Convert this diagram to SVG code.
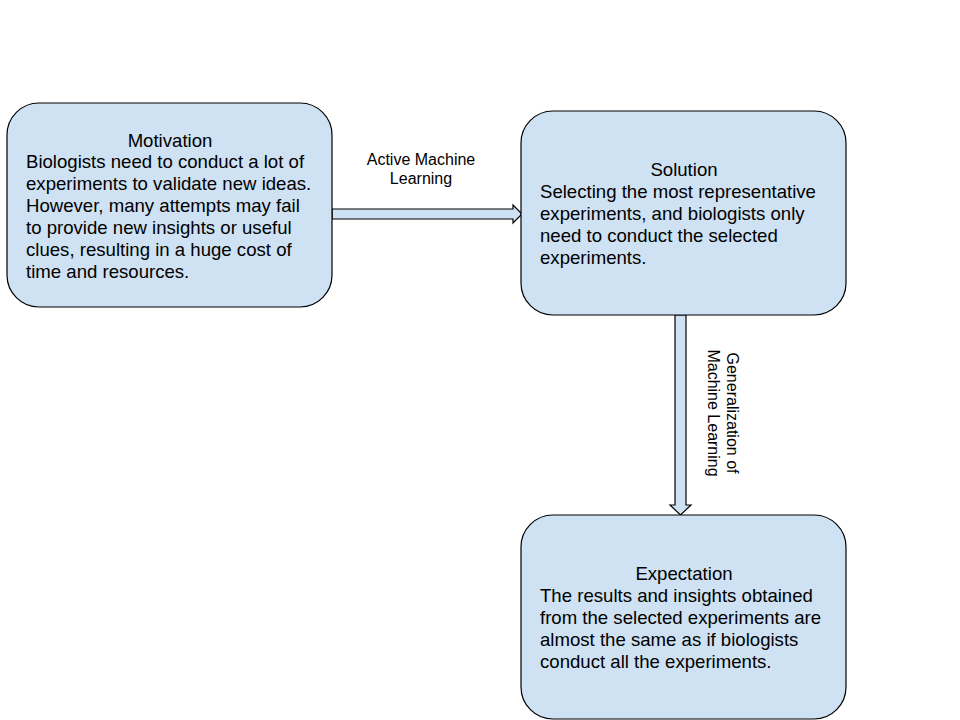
<svg xmlns="http://www.w3.org/2000/svg" width="960" height="720" viewBox="0 0 960 720">
<style>
.box{fill:#cfe2f3;stroke:#000;stroke-width:1.2}
.t{font-family:"Liberation Sans",Arial,sans-serif;font-size:18.6px;fill:#000}
.c{text-anchor:middle}
.lbl{font-family:"Liberation Sans",Arial,sans-serif;font-size:16px;fill:#000;text-anchor:middle}
.arr{fill:#cfe2f3;stroke:#000;stroke-width:1.2;stroke-linejoin:miter}
</style>
<rect width="960" height="720" fill="#fff"/>
<g id="connectors">
<polygon class="arr" points="332,209 513,209 513,205 522,214 513,223 513,219 332,219"/>
<polygon class="arr" points="675,315 686,315 686,505 691,505 680.5,515 670,505 675,505"/>
<text class="lbl" x="421" y="165">Active Machine<tspan x="421" y="184">Learning</tspan></text>
<text class="lbl" transform="translate(724,413) rotate(90)"><tspan x="0" y="-3">Generalization of</tspan><tspan x="0" y="16">Machine Learning</tspan></text>
</g>
<g id="motivation">
<rect class="box" x="7" y="103" width="325" height="204" rx="32"/>
<text class="t c" x="170" y="147">Motivation</text>
<text class="t" x="26" y="168">Biologists need to conduct a lot of</text>
<text class="t" x="26" y="190">experiments to validate new ideas.</text>
<text class="t" x="26" y="212">However, many attempts may fail</text>
<text class="t" x="26" y="234">to provide new insights or useful</text>
<text class="t" x="26" y="256">clues, resulting in a huge cost of</text>
<text class="t" x="26" y="278">time and resources.</text>
</g>
<g id="solution">
<rect class="box" x="521" y="111" width="325" height="204" rx="32"/>
<text class="t c" x="684" y="176">Solution</text>
<text class="t" x="540" y="198">Selecting the most representative</text>
<text class="t" x="540" y="220">experiments, and biologists only</text>
<text class="t" x="540" y="242">need to conduct the selected</text>
<text class="t" x="540" y="264">experiments.</text>
</g>
<g id="expectation">
<rect class="box" x="521" y="515" width="325" height="204" rx="32"/>
<text class="t c" x="684" y="580">Expectation</text>
<text class="t" x="540" y="602">The results and insights obtained</text>
<text class="t" x="540" y="624">from the selected experiments are</text>
<text class="t" x="540" y="646">almost the same as if biologists</text>
<text class="t" x="540" y="668">conduct all the experiments.</text>
</g>
</svg>
